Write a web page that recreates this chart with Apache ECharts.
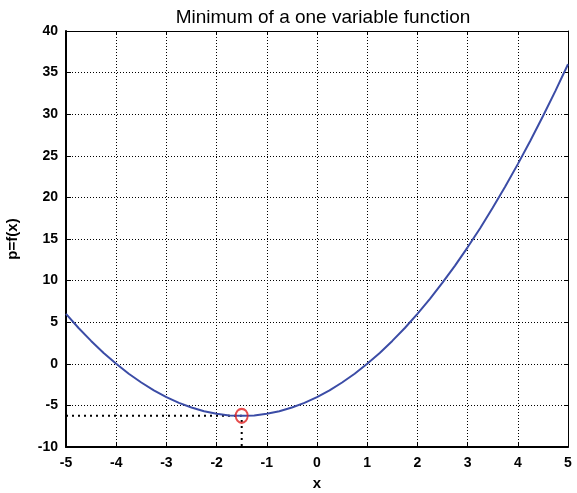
<!DOCTYPE html>
<html>
<head>
<meta charset="utf-8">
<script src="https://cdn.jsdelivr.net/npm/echarts@6/dist/echarts.min.js"></script>
<style>
  html, body { margin: 0; padding: 0; background: #fff; }
  #chart { width: 577px; height: 493px; }
</style>
</head>
<body>
<div id="chart"></div>
<script>
  // curve samples
  const xs = [-5, -4.75, -4.5, -4.25, -4, -3.75, -3.5, -3.25, -3, -2.75, -2.5, -2.25, -2, -1.75, -1.5,
    -1.25, -1, -0.75, -0.5, -0.25, 0, 0.25, 0.5, 0.75, 1, 1.25, 1.5, 1.75, 2, 2.25, 2.5,
    2.75, 3, 3.25, 3.5, 3.75, 4, 4.25, 4.5, 4.75, 5]
  const ps = [6, 4.3, 2.75, 1.3, 0, -1.2, -2.25, -3.2, -4, -4.7, -5.25, -5.7, -6, -6.2, -6.25,
    -6.2, -6, -5.7, -5.25, -4.7, -4, -3.2, -2.25, -1.2, 0, 1.3, 2.75, 4.3, 6, 7.8, 9.75,
    11.8, 14, 16.3, 18.75, 21.3, 24, 26.8, 29.75, 32.8, 36]
  // the minimum that is marked
  const minPoint = [-1.5, -6.25]
  const xTicks = [-5, 5, 1]
  const yTicks = [-10, 40, 5]

  const chart = echarts.init(document.getElementById('chart'))
  const font = 'Liberation Sans, Arial, sans-serif'
  const dotted = { color: '#000', type: [1, 2], width: 1 }

  chart.setOption({
    animation: false,
    title: {
      text: 'Minimum of a one variable function',
      left: 318,
      top: 3,
      textAlign: 'center',
      textStyle: { fontFamily: font, fontWeight: 'normal', fontSize: 19, color: '#000' }
    },
    grid: { left: 66, right: 9, top: 31, bottom: 46, containLabel: false, outerBoundsMode: 'none' },
    xAxis: [{
      type: 'value',
      min: xTicks[0], max: xTicks[1], interval: xTicks[2],
      name: 'x', nameLocation: 'middle', nameGap: 29,
      nameTextStyle: { fontFamily: font, fontWeight: 'bold', fontSize: 15, color: '#000' },
      axisLine: { onZero: false, lineStyle: { color: '#000', width: 2 } },
      axisTick: { show: true, inside: true, length: 5, lineStyle: { color: '#000' } },
      axisLabel: { fontFamily: font, fontWeight: 'bold', fontSize: 14, color: '#000', margin: 9 },
      splitLine: { lineStyle: dotted }
    }, {
      type: 'value', position: 'top',
      min: xTicks[0], max: xTicks[1], interval: xTicks[2],
      axisLine: { onZero: false, lineStyle: { color: '#000', width: 1 } },
      axisTick: { show: true, inside: true, length: 4, lineStyle: { color: '#000' } },
      axisLabel: { show: false },
      splitLine: { show: false }
    }],
    yAxis: [{
      type: 'value',
      min: yTicks[0], max: yTicks[1], interval: yTicks[2],
      name: 'p=f(x)', nameLocation: 'middle', nameGap: 46,
      nameTextStyle: { fontFamily: font, fontWeight: 'bold', fontSize: 15, color: '#000' },
      axisLine: { show: true, onZero: false, lineStyle: { color: '#000', width: 2 } },
      axisTick: { show: true, inside: true, length: 5, lineStyle: { color: '#000' } },
      axisLabel: { fontFamily: font, fontWeight: 'bold', fontSize: 14, color: '#000', margin: 8 },
      splitLine: { lineStyle: dotted }
    }, {
      type: 'value', position: 'right',
      min: yTicks[0], max: yTicks[1], interval: yTicks[2],
      axisLine: { show: true, onZero: false, lineStyle: { color: '#000', width: 1 } },
      axisTick: { show: true, inside: true, length: 4, lineStyle: { color: '#000' } },
      axisLabel: { show: false },
      splitLine: { show: false }
    }],
    series: [
      {
        type: 'line',
        data: xs.map((x, i) => [x, ps[i]]),
        showSymbol: false,
        lineStyle: { color: '#3b4ca6', width: 2 },
        z: 3
      },
      {
        type: 'line',
        data: [[xTicks[0], minPoint[1]], minPoint, [minPoint[0], yTicks[0]]],
        showSymbol: false,
        lineStyle: { color: '#000', width: 2, type: [2, 4] },
        z: 2
      },
      {
        type: 'scatter',
        data: [minPoint],
        symbol: 'circle',
        symbolSize: [12, 14],
        itemStyle: { color: 'transparent', borderColor: '#e02020', borderWidth: 2 },
        z: 4
      }
    ]
  })
</script>
</body>
</html>
